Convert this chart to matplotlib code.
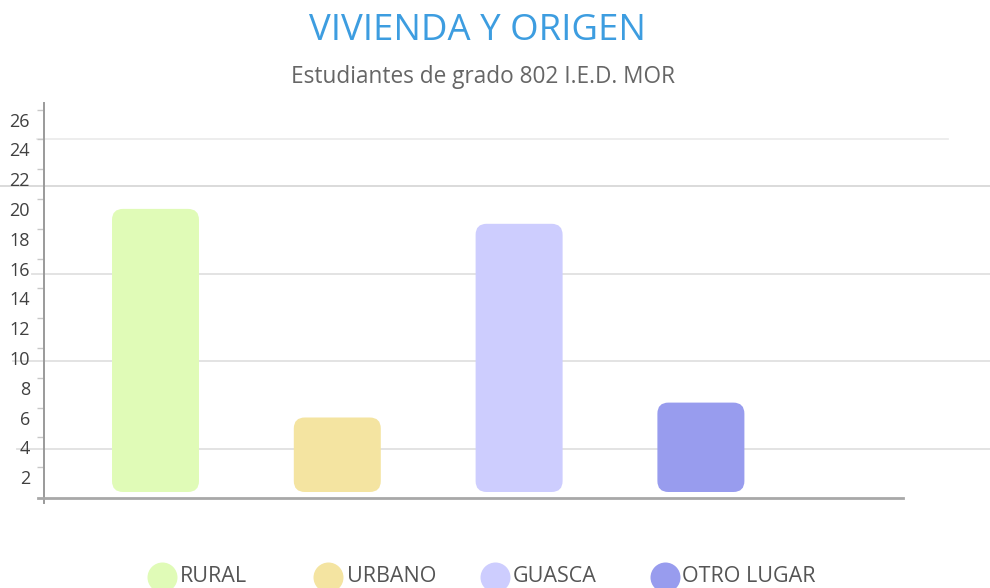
import matplotlib
matplotlib.use("Agg")
import matplotlib.pyplot as plt
import matplotlib.transforms as mtransforms
from matplotlib.patches import FancyBboxPatch
from matplotlib.lines import Line2D

plt.rcParams['font.family'] = ['Open Sans', 'DejaVu Sans']

# ---- data ----
categories = ["RURAL", "URBANO", "GUASCA", "OTRO LUGAR"]
values = [19, 5, 18, 6]
colors = ["#e0fbb7", "#f4e4a1", "#cdcdfe", "#989cee"]
ytick_values = list(range(2, 27, 2))
title = "VIVIENDA Y ORIGEN"
subtitle = "Estudiantes de grado 802 I.E.D. MOR"

W, H = 990, 588
fig = plt.figure(figsize=(W / 100, H / 100), dpi=100)

# axes geometry in pixels
ax_left, ax_right, ax_bottom, ax_top = 44, 990, 497, 103
ax = fig.add_axes([ax_left / W, 1 - ax_bottom / H, (ax_right - ax_left) / W, (ax_bottom - ax_top) / H])
px_per_unit_y = 14.9
px_per_unit_x = 181.8
ax.set_ylim(0, (ax_bottom - ax_top) / px_per_unit_y)
x0 = -(155.5 - ax_left) / px_per_unit_x
ax.set_xlim(x0, x0 + (ax_right - ax_left) / px_per_unit_x)

for s in ax.spines.values():
    s.set_visible(False)
ax.set_xticks([])

# gridlines (styling)
bt = mtransforms.blended_transform_factory(fig.transFigure, ax.transData)
grid_specs = [(24.0, 37, 948, "#ececec"), (20.84, 0, 990, "#d8d8d8"),
              (15.0, 32, 990, "#e0e0e0"), (9.13, 13, 990, "#e0e0e0"),
              (3.22, 17, 990, "#e0e0e0")]
for yv, xs, xe, c in grid_specs:
    ax.add_line(Line2D([xs / W, xe / W], [yv, yv], transform=bt, color=c,
                       lw=1.3, clip_on=False, zorder=0))

# bars with rounded corners (drawn from a small inset above the axis)
bar_w = 87 / px_per_unit_x
bar_bottom = 5 / px_per_unit_y
aspect = px_per_unit_x / px_per_unit_y
r = 11 / px_per_unit_x
for i, (v, c) in enumerate(zip(values, colors)):
    p = FancyBboxPatch((i - bar_w / 2, bar_bottom), bar_w, v,
                       boxstyle=f"round,pad=0,rounding_size={r}",
                       mutation_aspect=aspect, fc=c, ec="none", zorder=2)
    ax.add_patch(p)

# y ticks
ax.set_yticks(ytick_values)
ax.set_yticklabels([str(t) for t in ytick_values])
ax.tick_params(axis='y', length=5, width=1, color="#c8c8c8", pad=5,
               labelsize=13, labelcolor="#404040")
offset = mtransforms.ScaledTranslation(0, -3 / 100, fig.dpi_scale_trans)
for lab in ax.get_yticklabels():
    lab.set_verticalalignment('top')
    lab.set_transform(lab.get_transform() + offset)

# axis lines
ax.add_line(Line2D([ax_left / W, ax_left / W], [1 - 503 / H, 1 - 103 / H],
                   transform=fig.transFigure, color="#9a9a9a", lw=1.4, clip_on=False, zorder=3))
ax.add_line(Line2D([38 / W, 903 / W], [1 - 497.5 / H, 1 - 497.5 / H],
                   transform=fig.transFigure, color="#a8a8a8", lw=2.0, clip_on=False, zorder=3))

# titles
fig.text(477 / W, 1 - 31 / H, title, ha='center', va='center', fontsize=26.3, color="#3d9de0")
fig.text(483 / W, 1 - 77 / H, subtitle, ha='center', va='center', fontsize=16.3, color="#666666")

# legend
leg_circle_x = [162, 328, 495, 665]
leg_text_x = [180, 347, 513, 682]
for cx, tx, lab, c in zip(leg_circle_x, leg_text_x, categories, colors):
    fig.add_artist(Line2D([cx / W], [1 - 577 / H], marker='o', markersize=21.6,
                          markerfacecolor=c, markeredgecolor='none', linestyle='none',
                          transform=fig.transFigure))
    fig.text(tx / W, 1 - 576 / H, lab, ha='left', va='center', fontsize=15.5, color="#555555")

fig.savefig("out.png", dpi=100)
